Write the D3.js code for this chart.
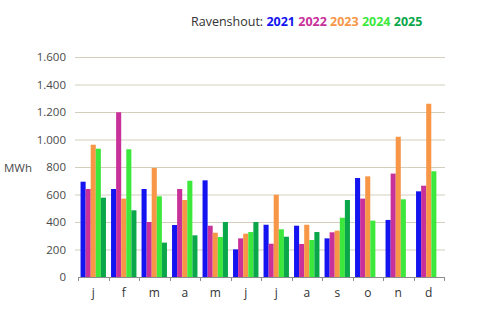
<!DOCTYPE html>
<html>
<head>
<meta charset="utf-8">
<script src="https://cdn.jsdelivr.net/npm/d3@7"></script>
<style>
  body { margin: 0; background: #fff; }
  svg { font-family: "Open Sans", "Liberation Sans", sans-serif; }
</style>
</head>
<body>
<div id="container"></div>
<script>
// maanden en jaren
const months = ["j", "f", "m", "a", "m", "j", "j", "a", "s", "o", "n", "d"];
const years = ["2021", "2022", "2023", "2024", "2025"];
const colors = ["#1414f0", "#c8309a", "#f79646", "#3ce83c", "#0aa64a"];

// opbrengst per maand (MWh), null = geen data
const y2021 = [693, 640, 640, 378, 703, 201, 380, 373, 281, 720, 415, 623];
const y2022 = [640, 1198, 400, 640, 373, 281, 242, 240, 325, 570, 752, 664];
const y2023 = [962, 570, 793, 560, 322, 315, 598, 380, 337, 732, 1020, 1260];
const y2024 = [933, 929, 587, 700, 291, 327, 347, 269, 431, 410, 565, 769];
const y2025 = [577, 485, 250, 303, 400, 400, 293, 327, 560, null, null, null];
const series = [y2021, y2022, y2023, y2024, y2025];

const yTicks = [0, 200, 400, 600, 800, 1000, 1200, 1400, 1600];

const width = 480;
const height = 311;
const plotLeft = 78, plotRight = 444, plotTop = 57, plotBottom = 277;

const svg = d3.select("#container").append("svg")
  .attr("width", width)
  .attr("height", height);

// schalen
const xScale = d3.scaleBand()
  .domain(d3.range(months.length))
  .range([plotLeft, plotRight]);

const xInner = d3.scaleBand()
  .domain(years)
  .range([0, xScale.bandwidth()])
  .paddingOuter(0.5)
  .paddingInner(0);

const yScale = d3.scaleLinear()
  .domain([0, 1600])
  .range([plotBottom, plotTop]);

// rasterlijnen
svg.append("g")
  .selectAll("line")
  .data(yTicks.slice(1))
  .enter()
  .append("line")
  .attr("x1", plotLeft - 3)
  .attr("x2", plotRight + 1)
  .attr("y1", d => yScale(d) + 0.5)
  .attr("y2", d => yScale(d) + 0.5)
  .attr("stroke", "#d4cfbd")
  .attr("stroke-width", 1);

// y labels
const fmt = d3.formatLocale({ decimal: ",", thousands: ".", grouping: [3], currency: ["", ""] }).format(",d");
svg.append("g")
  .selectAll("text")
  .data(yTicks)
  .enter()
  .append("text")
  .attr("x", 66)
  .attr("y", d => yScale(d) + 4)
  .attr("text-anchor", "end")
  .attr("font-size", 11.5)
  .attr("fill", "#4a4a4a")
  .text(d => fmt(d));

svg.append("text")
  .attr("x", 4)
  .attr("y", 172)
  .attr("font-size", 11.5)
  .attr("fill", "#4a4a4a")
  .text("MWh");

// staven
series.forEach((vals, s) => {
  svg.append("g")
    .selectAll("rect")
    .data(vals.map((v, i) => ({ i, v })).filter(d => d.v != null))
    .enter()
    .append("rect")
    .attr("x", d => xScale(d.i) + xInner(years[s]))
    .attr("y", d => yScale(d.v))
    .attr("width", xInner.bandwidth())
    .attr("height", d => plotBottom - yScale(d.v))
    .attr("fill", colors[s]);
});

// x as
const xa = svg.append("g");
xa.append("line")
  .attr("x1", plotLeft).attr("x2", plotRight + 1)
  .attr("y1", plotBottom + 0.5).attr("y2", plotBottom + 0.5)
  .attr("stroke", "#8c8c8c");
xa.selectAll(".tick")
  .data(d3.range(months.length + 1))
  .enter()
  .append("line")
  .attr("x1", i => Math.round(plotLeft + i * xScale.step()) + 0.5)
  .attr("x2", i => Math.round(plotLeft + i * xScale.step()) + 0.5)
  .attr("y1", plotBottom)
  .attr("y2", plotBottom + 4)
  .attr("stroke", "#8c8c8c");
xa.selectAll("text")
  .data(months)
  .enter()
  .append("text")
  .attr("x", (d, i) => xScale(i) + xScale.bandwidth() / 2)
  .attr("y", 297)
  .attr("text-anchor", "middle")
  .attr("font-size", 12)
  .attr("fill", "#333")
  .text(d => d);

// titel
const title = svg.append("text")
  .attr("x", 191)
  .attr("y", 26)
  .attr("font-size", 12.5)
  .attr("fill", "#333");
title.append("tspan").text("Ravenshout: ");
years.forEach((y, i) => {
  title.append("tspan")
    .attr("font-weight", "bold")
    .attr("fill", colors[i])
    .text(y + (i < years.length - 1 ? " " : ""));
});
</script>
</body>
</html>
